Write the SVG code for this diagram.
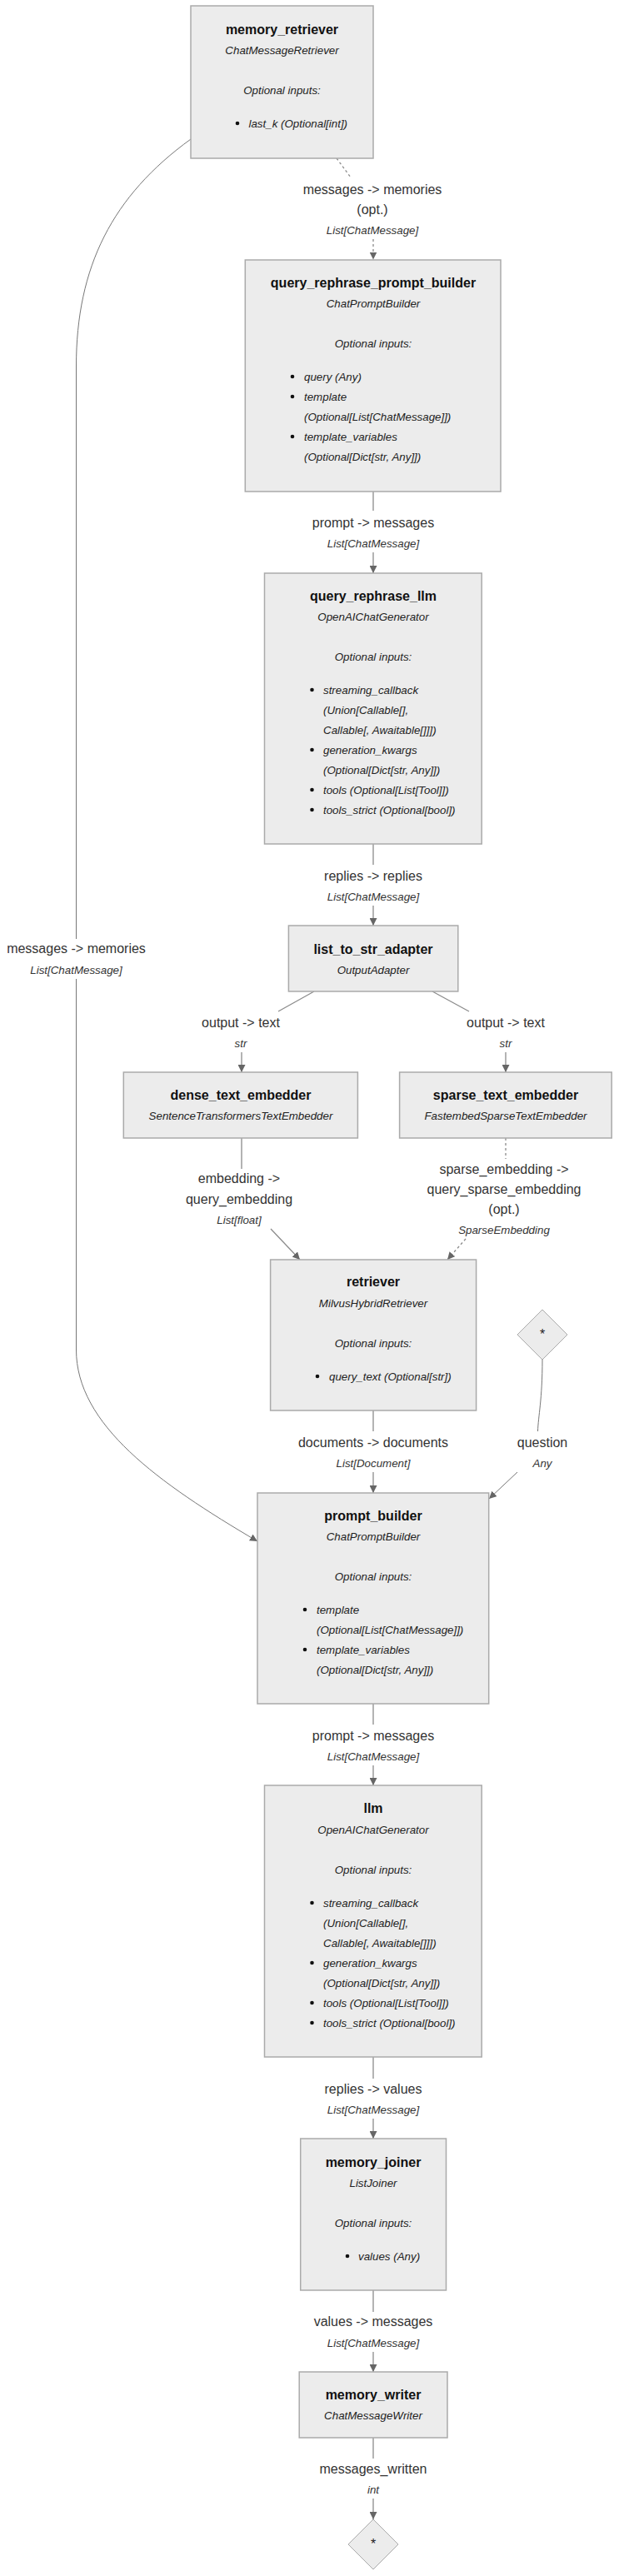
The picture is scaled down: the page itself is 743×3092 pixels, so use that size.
<svg xmlns="http://www.w3.org/2000/svg" width="743" height="3092" viewBox="0 0 743 3092">
<defs>
<style>
text{font-family:"Liberation Sans",Arial,Helvetica,sans-serif;fill:#222}
.box{fill:#ececec;stroke:#aaa;stroke-width:1.5}
.dia{fill:#ececec;stroke:#aaa;stroke-width:1}
.t{font-size:16px;font-weight:bold;text-anchor:middle;fill:#111}
.s{font-size:13.333px;font-style:italic;text-anchor:middle}
.o{font-size:13.333px;font-style:italic;text-anchor:middle}
.li{font-size:13.333px;font-style:italic}
.d{fill:#111}
.el{font-size:16px;text-anchor:middle;fill:#333}
.ty{font-size:13.333px;font-style:italic;text-anchor:middle;fill:#333}
.e{fill:none;stroke:#8c8c8c;stroke-width:1.3}
.dash{stroke-dasharray:3 3}
.thin{stroke:#777;stroke-width:1}
</style>
<marker id="arr" viewBox="0 0 10 10" refX="10" refY="5" markerWidth="9" markerHeight="9" markerUnits="userSpaceOnUse" orient="auto">
<path d="M0,0 L10,5 L0,10 z" fill="#666"/>
</marker>
</defs>
<rect width="743" height="3092" fill="#fff"/>

<g id="connectors">
<path class="e dash" d="M404,190 L421,213 M448,287 L448,311.5" marker-end="url(#arr)"/>
<path class="e" d="M448,590 L448,613 M448,663 L448,688" marker-end="url(#arr)"/>
<path class="e" d="M448,1013 L448,1038 M448,1087 L448,1111" marker-end="url(#arr)"/>
<path class="e" d="M377,1190 L334,1214 M290,1263 L290,1287" marker-end="url(#arr)"/>
<path class="e" d="M519,1190 L563,1214 M607,1263 L607,1287" marker-end="url(#arr)"/>
<path class="e" d="M290,1366 L290,1403 M325,1475 L360,1512" marker-end="url(#arr)"/>
<path class="e dash" d="M607,1366 L607,1391 M559,1487 L537,1512" marker-end="url(#arr)"/>
<path class="e" d="M448,1693 L448,1718 M448,1767 L448,1792" marker-end="url(#arr)"/>
<path class="e thin" d="M651,1632 C651,1680 646,1700 645.5,1718 M621,1767 L587,1799" marker-end="url(#arr)"/>
<path class="e thin" d="M229,167 C135,235 91.5,320 91.5,440 L91.5,1127 M91.5,1175 L91.5,1620 C91.5,1710 190,1780 309,1850" marker-end="url(#arr)"/>
<path class="e" d="M448,2045 L448,2070 M448,2119 L448,2143" marker-end="url(#arr)"/>
<path class="e" d="M448,2469 L448,2495 M448,2543 L448,2567" marker-end="url(#arr)"/>
<path class="e" d="M448,2749 L448,2775 M448,2823 L448,2847" marker-end="url(#arr)"/>
<path class="e" d="M448,2926 L448,2951 M448,2999 L448,3024" marker-end="url(#arr)"/>
</g>

<g id="edge-labels">
<text class="el" x="447" y="233">messages -&gt; memories</text>
<text class="el" x="447" y="257">(opt.)</text>
<text class="ty" x="447" y="281">List[ChatMessage]</text>
<text class="el" x="448" y="633">prompt -&gt; messages</text>
<text class="ty" x="448" y="657">List[ChatMessage]</text>
<text class="el" x="448" y="1057">replies -&gt; replies</text>
<text class="ty" x="448" y="1081">List[ChatMessage]</text>
<text class="el" x="289" y="1233">output -&gt; text</text>
<text class="ty" x="289" y="1257">str</text>
<text class="el" x="607" y="1233">output -&gt; text</text>
<text class="ty" x="607" y="1257">str</text>
<text class="el" x="287" y="1420">embedding -&gt;</text>
<text class="el" x="287" y="1445">query_embedding</text>
<text class="ty" x="287" y="1469">List[float]</text>
<text class="el" x="605" y="1409">sparse_embedding -&gt;</text>
<text class="el" x="605" y="1433">query_sparse_embedding</text>
<text class="el" x="605" y="1457">(opt.)</text>
<text class="ty" x="605" y="1481">SparseEmbedding</text>
<text class="el" x="448" y="1737">documents -&gt; documents</text>
<text class="ty" x="448" y="1761">List[Document]</text>
<text class="el" x="651" y="1737">question</text>
<text class="ty" x="651" y="1761">Any</text>
<text class="el" x="91.5" y="1144">messages -&gt; memories</text>
<text class="ty" x="91.5" y="1169">List[ChatMessage]</text>
<text class="el" x="448" y="2089">prompt -&gt; messages</text>
<text class="ty" x="448" y="2113">List[ChatMessage]</text>
<text class="el" x="448" y="2513">replies -&gt; values</text>
<text class="ty" x="448" y="2537">List[ChatMessage]</text>
<text class="el" x="448" y="2792">values -&gt; messages</text>
<text class="ty" x="448" y="2817">List[ChatMessage]</text>
<text class="el" x="448" y="2969">messages_written</text>
<text class="ty" x="448" y="2993">int</text>
</g>

<g id="memory_retriever">
<rect class="box" x="229" y="7" width="219" height="183"/>
<text class="t" x="338.5" y="41">memory_retriever</text>
<text class="s" x="338.5" y="65">ChatMessageRetriever</text>
<text class="o" x="338.5" y="113">Optional inputs:</text>
<circle class="d" cx="285" cy="148" r="2.3"/>
<text class="li" x="298.5" y="153">last_k (Optional[int])</text>
</g>

<g id="query_rephrase_prompt_builder">
<rect class="box" x="294.3" y="312" width="306.7" height="278"/>
<text class="t" x="448" y="345">query_rephrase_prompt_builder</text>
<text class="s" x="448" y="369">ChatPromptBuilder</text>
<text class="o" x="448" y="417">Optional inputs:</text>
<circle class="d" cx="351" cy="452" r="2.3"/>
<text class="li" x="365" y="457">query (Any)</text>
<circle class="d" cx="351" cy="476" r="2.3"/>
<text class="li" x="365" y="481">template</text>
<text class="li" x="365" y="505">(Optional[List[ChatMessage]])</text>
<circle class="d" cx="351" cy="524" r="2.3"/>
<text class="li" x="365" y="529">template_variables</text>
<text class="li" x="365" y="553">(Optional[Dict[str, Any]])</text>
</g>

<g id="query_rephrase_llm">
<rect class="box" x="317.5" y="688" width="260.7" height="325"/>
<text class="t" x="448" y="721">query_rephrase_llm</text>
<text class="s" x="448" y="745">OpenAIChatGenerator</text>
<text class="o" x="448" y="793">Optional inputs:</text>
<circle class="d" cx="374.5" cy="828" r="2.3"/>
<text class="li" x="388" y="833">streaming_callback</text>
<text class="li" x="388" y="857">(Union[Callable[],</text>
<text class="li" x="388" y="881">Callable[, Awaitable[]]])</text>
<circle class="d" cx="374.5" cy="900" r="2.3"/>
<text class="li" x="388" y="905">generation_kwargs</text>
<text class="li" x="388" y="929">(Optional[Dict[str, Any]])</text>
<circle class="d" cx="374.5" cy="948" r="2.3"/>
<text class="li" x="388" y="953">tools (Optional[List[Tool]])</text>
<circle class="d" cx="374.5" cy="972" r="2.3"/>
<text class="li" x="388" y="977">tools_strict (Optional[bool])</text>
</g>

<g id="list_to_str_adapter">
<rect class="box" x="346.4" y="1111" width="203.4" height="79"/>
<text class="t" x="448" y="1145">list_to_str_adapter</text>
<text class="s" x="448" y="1169">OutputAdapter</text>
</g>

<g id="dense_text_embedder">
<rect class="box" x="148.3" y="1287" width="281.1" height="79"/>
<text class="t" x="289" y="1320">dense_text_embedder</text>
<text class="s" x="289" y="1344">SentenceTransformersTextEmbedder</text>
</g>

<g id="sparse_text_embedder">
<rect class="box" x="479.6" y="1287" width="254.6" height="79"/>
<text class="t" x="607" y="1320">sparse_text_embedder</text>
<text class="s" x="607" y="1344">FastembedSparseTextEmbedder</text>
</g>

<g id="retriever">
<rect class="box" x="324.6" y="1512" width="247" height="181"/>
<text class="t" x="448" y="1544">retriever</text>
<text class="s" x="448" y="1569">MilvusHybridRetriever</text>
<text class="o" x="448" y="1617">Optional inputs:</text>
<circle class="d" cx="381" cy="1652" r="2.3"/>
<text class="li" x="395" y="1657">query_text (Optional[str])</text>
</g>

<g id="input_question">
<path class="dia" d="M651,1572 L681,1602 L651,1632 L621,1602 Z"/>
<text class="el" x="651" y="1607" style="fill:#222">*</text>
</g>

<g id="prompt_builder">
<rect class="box" x="309" y="1792" width="277.7" height="253"/>
<text class="t" x="448" y="1825">prompt_builder</text>
<text class="s" x="448" y="1849">ChatPromptBuilder</text>
<text class="o" x="448" y="1897">Optional inputs:</text>
<circle class="d" cx="366" cy="1932" r="2.3"/>
<text class="li" x="380" y="1937">template</text>
<text class="li" x="380" y="1961">(Optional[List[ChatMessage]])</text>
<circle class="d" cx="366" cy="1980" r="2.3"/>
<text class="li" x="380" y="1985">template_variables</text>
<text class="li" x="380" y="2009">(Optional[Dict[str, Any]])</text>
</g>

<g id="llm">
<rect class="box" x="317.5" y="2143" width="260.7" height="326"/>
<text class="t" x="448" y="2176">llm</text>
<text class="s" x="448" y="2201">OpenAIChatGenerator</text>
<text class="o" x="448" y="2249">Optional inputs:</text>
<circle class="d" cx="374.5" cy="2284" r="2.3"/>
<text class="li" x="388" y="2289">streaming_callback</text>
<text class="li" x="388" y="2313">(Union[Callable[],</text>
<text class="li" x="388" y="2337">Callable[, Awaitable[]]])</text>
<circle class="d" cx="374.5" cy="2356" r="2.3"/>
<text class="li" x="388" y="2361">generation_kwargs</text>
<text class="li" x="388" y="2385">(Optional[Dict[str, Any]])</text>
<circle class="d" cx="374.5" cy="2404" r="2.3"/>
<text class="li" x="388" y="2409">tools (Optional[List[Tool]])</text>
<circle class="d" cx="374.5" cy="2428" r="2.3"/>
<text class="li" x="388" y="2433">tools_strict (Optional[bool])</text>
</g>

<g id="memory_joiner">
<rect class="box" x="360.7" y="2567" width="174.8" height="182"/>
<text class="t" x="448" y="2601">memory_joiner</text>
<text class="s" x="448" y="2625">ListJoiner</text>
<text class="o" x="448" y="2673">Optional inputs:</text>
<circle class="d" cx="417" cy="2708" r="2.3"/>
<text class="li" x="430" y="2713">values (Any)</text>
</g>

<g id="memory_writer">
<rect class="box" x="359.2" y="2847" width="177.8" height="79"/>
<text class="t" x="448" y="2880">memory_writer</text>
<text class="s" x="448" y="2904">ChatMessageWriter</text>
</g>

<g id="output_messages_written">
<path class="dia" d="M448,3024 L478,3054 L448,3084 L418,3054 Z"/>
<text class="el" x="448" y="3059" style="fill:#222">*</text>
</g>
</svg>
